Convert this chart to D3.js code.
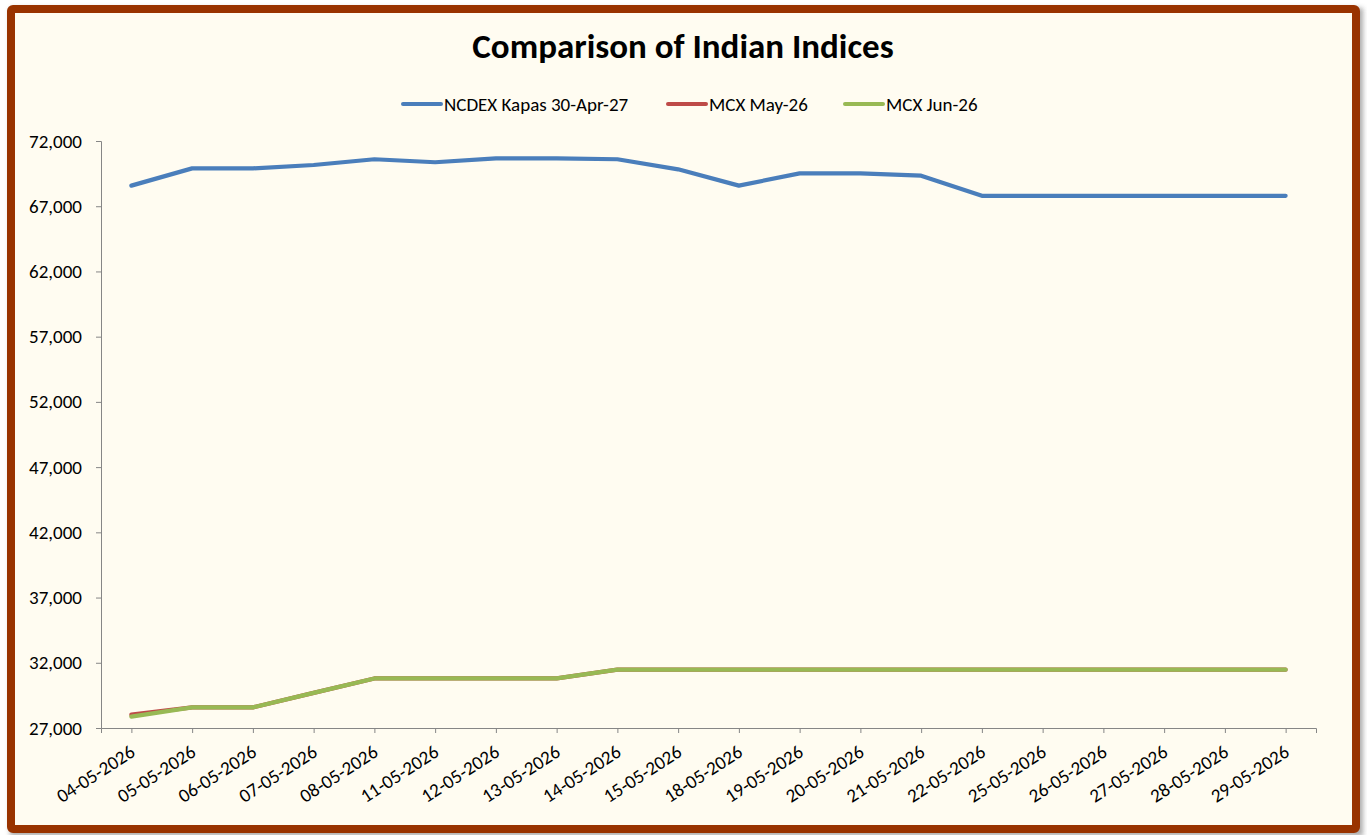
<!DOCTYPE html>
<html>
<head>
<meta charset="utf-8">
<script src="https://cdn.jsdelivr.net/npm/d3@7"></script>
<style>
  html, body { margin: 0; padding: 0; background: #ffffff; }
  svg { display: block; }
</style>
</head>
<body>
<div id="chart"></div>
<script>
// ── Data ─────────────────────────────────────────────────────────────────────
const dates = [
  '04-05-2026', '05-05-2026', '06-05-2026', '07-05-2026', '08-05-2026',
  '11-05-2026', '12-05-2026', '13-05-2026', '14-05-2026', '15-05-2026',
  '18-05-2026', '19-05-2026', '20-05-2026', '21-05-2026', '22-05-2026',
  '25-05-2026', '26-05-2026', '27-05-2026', '28-05-2026', '29-05-2026'
];
const ncdexKapas = [
  68580, 69900, 69900, 70160, 70600, 70370, 70670, 70670, 70600, 69830,
  68580, 69520, 69520, 69340, 67800, 67800, 67800, 67800, 67800, 67800
];
const mcxMay = [
  28020, 28580, 28580, 29690, 30800, 30800, 30800, 30800, 31470, 31470,
  31470, 31470, 31470, 31470, 31470, 31470, 31470, 31470, 31470, 31470
];
const mcxJun = [
  27870, 28580, 28580, 29690, 30800, 30800, 30800, 30800, 31470, 31470,
  31470, 31470, 31470, 31470, 31470, 31470, 31470, 31470, 31470, 31470
];
const yTicks = [27000, 32000, 37000, 42000, 47000, 52000, 57000, 62000, 67000, 72000];
const seriesNames = ['NCDEX Kapas 30-Apr-27', 'MCX May-26', 'MCX Jun-26'];

const series = [
  { name: seriesNames[0], values: ncdexKapas, color: '#4a7ebb' },
  { name: seriesNames[1], values: mcxMay, color: '#be4b48' },
  { name: seriesNames[2], values: mcxJun, color: '#98b954' }
];

// ── Layout ───────────────────────────────────────────────────────────────────
const W = 1367, H = 835;
const font = 'Carlito, Calibri, Lato, sans-serif';
const plot = { left: 101, right: 1316, top: 141, bottom: 728 };

const svg = d3.select('#chart').append('svg')
  .attr('width', W).attr('height', H)
  .style('font-family', font);

// frame shadow + frame
const defs = svg.append('defs');
const blur = defs.append('filter').attr('id', 'shadow')
  .attr('x', '-5%').attr('y', '-5%').attr('width', '110%').attr('height', '110%');
blur.append('feGaussianBlur').attr('stdDeviation', 2.5);

svg.append('rect')
  .attr('x', 14).attr('y', 12).attr('width', 1345).attr('height', 820)
  .attr('fill', 'none').attr('stroke', '#888').attr('stroke-width', 8)
  .attr('filter', 'url(#shadow)').attr('opacity', 0.7);

svg.append('rect')
  .attr('x', 11).attr('y', 9).attr('width', 1345).attr('height', 820)
  .attr('rx', 2)
  .attr('fill', '#fffcf1')
  .attr('stroke', '#993300')
  .attr('stroke-width', 8);

// ── Scales ───────────────────────────────────────────────────────────────────
const x = d3.scalePoint()
  .domain(dates)
  .range([plot.left, plot.right])
  .padding(0.5);

const y = d3.scaleLinear()
  .domain([27000, 72000])
  .range([plot.bottom, plot.top]);

// ── Title ────────────────────────────────────────────────────────────────────
svg.append('text')
  .attr('x', 683).attr('y', 58)
  .attr('text-anchor', 'middle')
  .attr('font-size', '35px')
  .attr('font-weight', 700)
  .attr('fill', '#000')
  .text('Comparison of Indian Indices');

// ── Legend ───────────────────────────────────────────────────────────────────
const legendX = [401, 666, 843];
series.forEach((s, i) => {
  const lg = svg.append('g').attr('transform', `translate(${legendX[i]},104)`);
  lg.append('line')
    .attr('x1', 2).attr('x2', 40).attr('y1', 0).attr('y2', 0)
    .attr('stroke', s.color).attr('stroke-width', 4)
    .attr('stroke-linecap', 'round');
  lg.append('text')
    .attr('x', 43).attr('y', 0)
    .attr('dy', '0.35em')
    .attr('font-size', '19px')
    .attr('fill', '#000')
    .text(s.name);
});

// ── Axes ─────────────────────────────────────────────────────────────────────
const axisColor = '#868686';

const yAxis = svg.append('g')
  .attr('transform', `translate(${plot.left},0)`)
  .call(d3.axisLeft(y).tickValues(yTicks).tickSize(5).tickPadding(14)
    .tickFormat(d3.format(',')));
yAxis.select('.domain').attr('stroke', axisColor);
yAxis.selectAll('.tick line').attr('stroke', axisColor);
yAxis.selectAll('.tick text')
  .attr('font-family', font)
  .attr('font-size', '19px')
  .attr('fill', '#000');

const xAxis = svg.append('g')
  .attr('transform', `translate(0,${plot.bottom})`)
  .call(d3.axisBottom(x).tickSize(5).tickSizeOuter(5).tickFormat(''));
xAxis.select('.domain').attr('stroke', axisColor);
xAxis.selectAll('.tick line').attr('stroke', axisColor);

// rotated category labels
svg.append('g').selectAll('text')
  .data(dates)
  .join('text')
  .attr('transform', d => `translate(${x(d) + 5},${plot.bottom + 27}) rotate(-33)`)
  .attr('text-anchor', 'end')
  .attr('font-size', '19px')
  .attr('fill', '#000')
  .text(d => d);

// ── Lines ────────────────────────────────────────────────────────────────────
const line = d3.line()
  .x((d, i) => x(dates[i]))
  .y(d => y(d));

series.forEach(s => {
  svg.append('path')
    .datum(s.values)
    .attr('fill', 'none')
    .attr('stroke', s.color)
    .attr('stroke-width', 4.2)
    .attr('stroke-linecap', 'round')
    .attr('stroke-linejoin', 'round')
    .attr('d', line);
});
</script>
</body>
</html>
